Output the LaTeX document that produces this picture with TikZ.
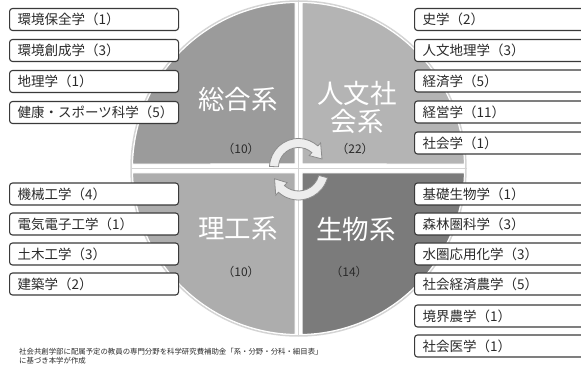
\documentclass[tikz,border=0pt]{standalone}
\usepackage{fontspec}
\setmainfont{Noto Sans CJK JP}
\definecolor{qA}{HTML}{9B9B9B}
\definecolor{qB}{HTML}{B4B4B4}
\definecolor{qC}{HTML}{ADADAD}
\definecolor{qD}{HTML}{7B7B7B}
\definecolor{boxline}{HTML}{3A3A3A}
\definecolor{boxtext}{HTML}{2A2A2A}
\definecolor{rim}{HTML}{D4D4D4}
\definecolor{arrfill}{HTML}{EDEDED}
\definecolor{arrline}{HTML}{8C8C8C}
\begin{document}
\begin{tikzpicture}[x=1pt,y=-1pt,
  lbox/.style={draw=boxline, line width=1.1pt, rounded corners=3pt, fill=white, anchor=west,
    minimum height=22pt, inner xsep=8pt, inner ysep=0pt, text width=153pt, align=left,
    text=boxtext, font=\fontsize{13.5}{16}\selectfont},
  rbox/.style={lbox, text width=160pt},
  qlabel/.style={text=white, font=\fontsize{26.5}{28}\selectfont, align=center, inner sep=0pt},
  qcount/.style={text=boxtext, font=\fontsize{12}{14}\selectfont, inner sep=0pt},
  quad/.style={draw=white, line width=1pt},
  cyc/.style={fill=arrfill, draw=arrline, line width=0.8pt}]
\useasboundingbox (0,0) rectangle (581,379);
\clip (0,0) rectangle (581,379);
% circle background rim and dividing lines
\coordinate (c) at (298.5,168.5);
\draw[rim, line width=1.5pt] (c) circle[radius=167.5];
\draw[rim, line width=1.5pt] (298.5,1) -- (298.5,336);
\draw[rim, line width=1.5pt] (131,168.5) -- (466,168.5);
\begin{scope}[shift={(298.5,168.5)}, x=1pt, y=1pt]
  \filldraw[quad, fill=qA] (-3.5,4.5) -- (178.447:166) arc[start angle=178.447, end angle=91.208, radius=166] -- cycle;
  \filldraw[quad, fill=qB] (3.5,4.5) -- (88.792:166) arc[start angle=88.792, end angle=1.553, radius=166] -- cycle;
  \filldraw[quad, fill=qC] (-3.5,-4.5) -- (181.553:166) arc[start angle=181.553, end angle=268.792, radius=166] -- cycle;
  \filldraw[quad, fill=qD] (3.5,-4.5) -- (271.208:166) arc[start angle=271.208, end angle=358.447, radius=166] -- cycle;
  % cycle arrows
  \begin{scope}[shift={(0,1)}]
    \filldraw[cyc] (178:29) arc[start angle=178, end angle=48, radius=29] -- (48:33) -- (20:25) -- (48:16) -- (48:20) arc[start angle=48, end angle=178, radius=20] -- cycle;
  \end{scope}
  \begin{scope}[shift={(0,-1.5)}]
    \filldraw[cyc] (-15:30) arc[start angle=-15, end angle=-132, radius=30] -- (-132:34) -- (-160:25.5) -- (-132:17) -- (-132:21) arc[start angle=-132, end angle=-15, radius=21] -- cycle;
  \end{scope}
\end{scope}
% quadrant labels
\node[qlabel] (sogo) at (238,99) {総合系};
\node[qlabel] (jinbun) at (357,107) {人文社\\会系};
\node[qlabel] (rikou) at (238,229) {理工系};
\node[qlabel] (seibutsu) at (356,229) {生物系};
\node[qcount] (n1) at (241,149) {（10）};
\node[qcount] (n2) at (355,149) {（22）};
\node[qcount] (n3) at (241,272) {（10）};
\node[qcount] (n4) at (349,272) {（14）};
% left boxes
\node[lbox] (l1) at (9,19.5) {環境保全学（1）};
\node[lbox] (l2) at (9,50.5) {環境創成学（3）};
\node[lbox] (l3) at (9,81.5) {地理学（1）};
\node[lbox] (l4) at (9,112.5) {健康・スポーツ科学（5）};
\node[lbox] (l5) at (9,194) {機械工学（4）};
\node[lbox] (l6) at (9,224) {電気電子工学（1）};
\node[lbox] (l7) at (9,254) {土木工学（3）};
\node[lbox] (l8) at (9,284) {建築学（2）};
% right boxes
\node[rbox] (r1) at (414,19.5) {史学（2）};
\node[rbox] (r2) at (414,50.5) {人文地理学（3）};
\node[rbox] (r3) at (414,81) {経済学（5）};
\node[rbox] (r4) at (414,112) {経営学（11）};
\node[rbox] (r5) at (414,143) {社会学（1）};
\node[rbox] (r6) at (414,194) {基礎生物学（1）};
\node[rbox] (r7) at (414,224) {森林圏科学（3）};
\node[rbox] (r8) at (414,254) {水圏応用化学（3）};
\node[rbox] (r9) at (414,284) {社会経済農学（5）};
\node[rbox] (r10) at (414,316) {境界農学（1）};
\node[rbox] (r11) at (414,346) {社会医学（1）};
% footnote
\node[anchor=north west, align=left, inner sep=0pt, text=boxtext, font=\fontsize{7.4}{9}\selectfont] (note) at (19,348)
  {社会共創学部に配属予定の教員の専門分野を科学研究費補助金「系・分野・分科・細目表」\\に基づき本学が作成};
\end{tikzpicture}
\end{document}
